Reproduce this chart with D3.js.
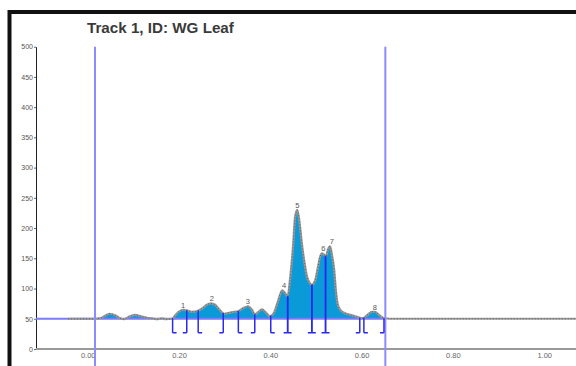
<!DOCTYPE html>
<html>
<head>
<meta charset="utf-8">
<script src="https://cdn.jsdelivr.net/npm/d3@7"></script>
<style>
  html, body { margin: 0; padding: 0; background: #fff; }
  svg { display: block; font-family: Arial, "Liberation Sans", sans-serif; }
</style>
</head>
<body>
<svg id="chart" width="576" height="366"></svg>
<script>
// Densitometry trace of lane 1 (WG Leaf): migration (Rf) vs. signal
const traceRf = [-0.043, 0.016, 0.027, 0.038, 0.049, 0.060, 0.071, 0.080, 0.090, 0.104,
  0.117, 0.130, 0.141, 0.152, 0.163, 0.171, 0.185, 0.191, 0.198, 0.209,
  0.217, 0.228, 0.239, 0.250, 0.261, 0.270, 0.279, 0.288, 0.299, 0.310,
  0.321, 0.329, 0.340, 0.351, 0.360, 0.366, 0.373, 0.382, 0.391, 0.399,
  0.408, 0.417, 0.426, 0.432, 0.438, 0.443, 0.450, 0.454, 0.459, 0.464,
  0.469, 0.475, 0.480, 0.486, 0.491, 0.498, 0.504, 0.509, 0.513, 0.518,
  0.522, 0.526, 0.531, 0.535, 0.540, 0.544, 0.548, 0.555, 0.564, 0.575,
  0.586, 0.596, 0.603, 0.612, 0.623, 0.629, 0.638, 0.649, 0.662, 1.070];
const traceSignal = [50, 50, 50.8, 55, 58.3, 55.8, 50.8, 49.2, 53.3, 56.6,
  54.1, 51.7, 50.8, 49.2, 50.8, 49.2, 50, 55, 60.8, 64.9,
  64.1, 61.6, 62.4, 66.5, 73.2, 75.6, 73.2, 65.7, 58.3, 59.9,
  61.6, 62.4, 67.4, 70.7, 64.9, 57.4, 60.8, 65.7, 59.9, 54.1,
  59.9, 79.8, 97.1, 93, 87.2, 114.5, 172.4, 217, 230.2, 210.4,
  175.7, 142.6, 121.1, 109.5, 106.2, 112.9, 134.4, 152.6, 158.3, 155.9,
  153.4, 164.1, 169.9, 155.9, 131, 94.3, 73.2, 63.2, 59.1, 56.6,
  54.1, 51.7, 50.8, 55.8, 61.6, 61.6, 56.6, 50.8, 50, 50];

// Detected bands
const peakIds = [1, 2, 3, 4, 5, 6, 7, 8];
const peakStart = [0.186, 0.242, 0.330, 0.401, 0.438, 0.491, 0.521, 0.605];
const peakEnd = [0.217, 0.297, 0.366, 0.438, 0.491, 0.521, 0.596, 0.649];
const peakApexRf = [0.209, 0.272, 0.351, 0.430, 0.459, 0.516, 0.535, 0.629];
const peakApexSignal = [65, 75.6, 70.7, 97, 230.2, 158.3, 169.9, 61.6];

// Lane limits and background level
const laneLimits = [0.016, 0.652];
const baselineLevel = 50;

const yTicks = [0, 50, 100, 150, 200, 250, 300, 350, 400, 450, 500];
const xTicks = [0, 0.2, 0.4, 0.6, 0.8, 1.0];
const titleText = "Track 1, ID: WG Leaf";

const svg = d3.select("#chart");
const x = d3.scaleLinear().domain([0, 1]).range([87.7, 544.2]);
const y = d3.scaleLinear().domain([0, 500]).range([349, 46.7]);
const signalAt = d3.scaleLinear().domain(traceRf).range(traceSignal);

// Outer frame
svg.append("rect")
  .attr("x", 9.5).attr("y", 12).attr("width", 640).attr("height", 420)
  .attr("fill", "none").attr("stroke", "#111").attr("stroke-width", 4);

// Title
svg.append("text")
  .attr("x", 87).attr("y", 33)
  .attr("font-size", 15.2).attr("font-weight", "bold").attr("fill", "#3a3a3a")
  .text(titleText);

// Y axis
const yAxis = svg.append("g").attr("transform", "translate(36,0)")
  .call(d3.axisLeft(y).tickValues(yTicks).tickSize(2).tickSizeOuter(0).tickPadding(1).tickFormat(d3.format("d")));
yAxis.select(".domain").attr("stroke", "#222").attr("stroke-width", 1);
yAxis.selectAll(".tick line").attr("stroke", "#666");
yAxis.selectAll("text").attr("font-size", 7).attr("fill", "#555").attr("font-family", "Arial, 'Liberation Sans', sans-serif");

// X axis
svg.append("line")
  .attr("x1", 36).attr("x2", 576).attr("y1", y(0)).attr("y2", y(0))
  .attr("stroke", "#999").attr("stroke-width", 2);
const xAxis = svg.append("g").attr("transform", `translate(0,${y(0)})`)
  .call(d3.axisBottom(x).tickValues(xTicks).tickSize(0).tickPadding(3.5).tickFormat(d3.format(".2f")));
xAxis.select(".domain").remove();
xAxis.selectAll("text").attr("font-size", 7.5).attr("fill", "#666").attr("font-family", "Arial, 'Liberation Sans', sans-serif");

// Filled area above background within the lane
svg.append("clipPath").attr("id", "lane")
  .append("rect")
  .attr("x", x(laneLimits[0])).attr("y", 0)
  .attr("width", x(laneLimits[1]) - x(laneLimits[0])).attr("height", 366);

const pts = traceRf.map((r, i) => [r, traceSignal[i]]);
const area = d3.area()
  .x(d => x(d[0]))
  .y0(y(baselineLevel))
  .y1(d => y(Math.max(d[1], baselineLevel)))
  .curve(d3.curveMonotoneX);
svg.append("path")
  .datum(pts)
  .attr("clip-path", "url(#lane)")
  .attr("d", area)
  .attr("fill", "#0a9ad8");

// Background level line across the lane
svg.append("line")
  .attr("x1", 36).attr("x2", x(laneLimits[1]))
  .attr("y1", y(baselineLevel)).attr("y2", y(baselineLevel))
  .attr("stroke", "#7a7aff").attr("stroke-width", 2);

// Trace
const line = d3.line().x(d => x(d[0])).y(d => y(d[1])).curve(d3.curveMonotoneX);
svg.append("path").datum(pts).attr("d", line)
  .attr("fill", "none").attr("stroke", "#9a9a9a").attr("stroke-width", 2.2);
svg.append("path").datum(pts).attr("d", line)
  .attr("fill", "none").attr("stroke", "#444").attr("stroke-width", 0.7)
  .attr("stroke-dasharray", "1,2");

// Lane limit markers
svg.selectAll("line.lane").data(laneLimits).join("line")
  .attr("class", "lane")
  .attr("x1", d => x(d)).attr("x2", d => x(d))
  .attr("y1", y(500)).attr("y2", 366)
  .attr("stroke", "#8c8cff").attr("stroke-width", 2);

// Band boundaries with bracket feet
const drop = 14, foot = 4;
const bounds = [];
peakStart.forEach(r => bounds.push({ r, side: 1 }));
peakEnd.forEach(r => bounds.push({ r, side: -1 }));
const bg = svg.append("g").attr("stroke", "#2a2aee").attr("stroke-width", 1.5).attr("fill", "none");
bounds.forEach(b => {
  const px = x(b.r);
  const top = y(Math.max(signalAt(b.r), baselineLevel));
  const bot = y(baselineLevel) + drop;
  bg.append("line").attr("x1", px).attr("x2", px).attr("y1", top).attr("y2", bot);
  bg.append("line").attr("x1", px).attr("x2", px + b.side * foot).attr("y1", bot).attr("y2", bot);
});

// Band numbers
svg.selectAll("text.peak").data(peakIds).join("text")
  .attr("class", "peak")
  .attr("x", (d, i) => x(peakApexRf[i]))
  .attr("y", (d, i) => y(peakApexSignal[i]) - 2)
  .attr("text-anchor", "middle")
  .attr("font-size", 7.5).attr("fill", "#555")
  .text(d => d);
</script>
</body>
</html>
